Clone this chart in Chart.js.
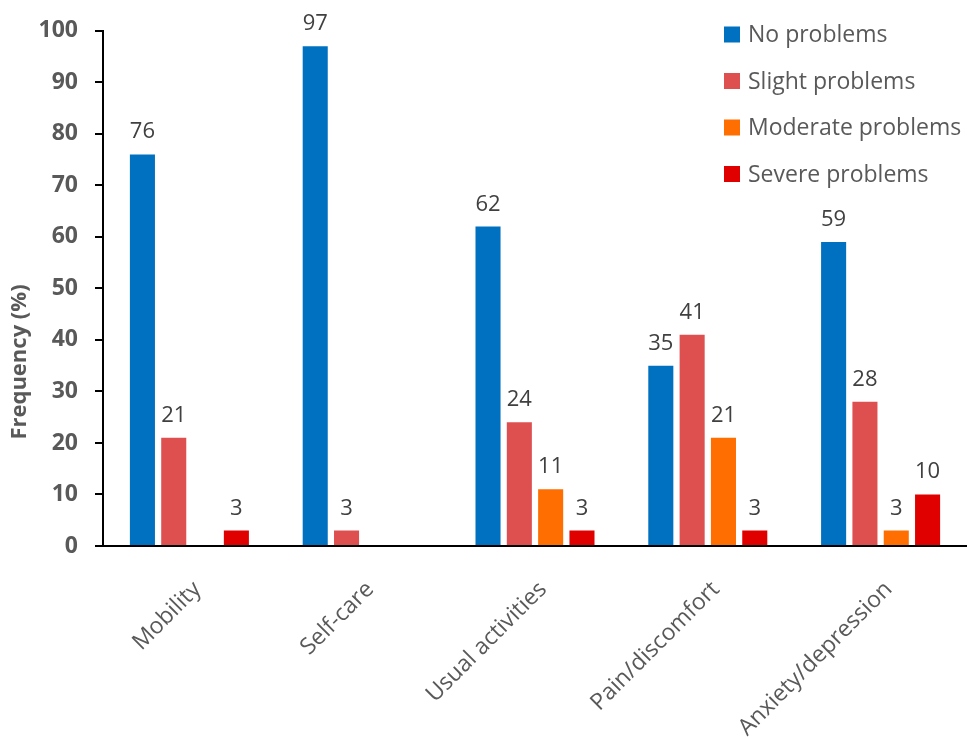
<!DOCTYPE html>
<html>
<head>
<meta charset="utf-8">
<script src="https://cdn.jsdelivr.net/npm/chart.js@4.4.0/dist/chart.umd.min.js"></script>
<style>
  html, body { margin: 0; padding: 0; background: #ffffff; }
  #wrap { width: 967px; height: 738px; position: relative; }
</style>
</head>
<body>
<div id="wrap"><canvas id="c"></canvas></div>
<script>
const categories = ['Mobility', 'Self-care', 'Usual activities', 'Pain/discomfort', 'Anxiety/depression'];
const seriesNames = ['No problems', 'Slight problems', 'Moderate problems', 'Severe problems'];
const noProblems = [76, 97, 62, 35, 59];
const slightProblems = [21, 3, 24, 41, 28];
const moderateProblems = [null, null, 11, 21, 3];
const severeProblems = [3, null, 3, 3, 10];
const seriesColors = ['#0070C0', '#DE5050', '#FF6E00', '#E00000'];
const yTicks = [0, 10, 20, 30, 40, 50, 60, 70, 80, 90, 100];
const yAxisTitle = 'Frequency (%)';

const seriesValues = [noProblems, slightProblems, moderateProblems, severeProblems];

const valueLabels = {
  id: 'valueLabels',
  afterDatasetsDraw(chart) {
    const ctx = chart.ctx;
    ctx.save();
    ctx.font = '22px "Open Sans"';
    ctx.fillStyle = '#404040';
    ctx.textAlign = 'center';
    ctx.textBaseline = 'alphabetic';
    chart.data.datasets.forEach((ds, i) => {
      const meta = chart.getDatasetMeta(i);
      meta.data.forEach((bar, j) => {
        const v = ds.data[j];
        if (v === null || v === undefined) return;
        ctx.fillText(String(v), bar.x, bar.y - 16);
      });
    });
    ctx.restore();
  }
};

const customLegend = {
  id: 'customLegend',
  afterDraw(chart) {
    const ctx = chart.ctx;
    ctx.save();
    ctx.font = '23px "Open Sans"';
    ctx.textAlign = 'left';
    ctx.textBaseline = 'middle';
    chart.data.datasets.forEach((ds, i) => {
      const cy = 34.5 + i * 46.5;
      ctx.fillStyle = ds.backgroundColor;
      ctx.fillRect(724, cy - 8, 16, 16);
      ctx.fillStyle = '#595959';
      ctx.fillText(ds.label, 748, cy + 1);
    });
    ctx.restore();
  }
};

const yTitle = {
  id: 'yTitle',
  afterDraw(chart) {
    const ctx = chart.ctx;
    ctx.save();
    ctx.translate(20, 362);
    ctx.rotate(-Math.PI / 2);
    ctx.font = 'bold 22px "Open Sans"';
    ctx.fillStyle = '#595959';
    ctx.textAlign = 'center';
    ctx.textBaseline = 'middle';
    ctx.fillText(yAxisTitle, 0, 0);
    ctx.restore();
  }
};

new Chart(document.getElementById('c'), {
  type: 'bar',
  data: {
    labels: categories,
    datasets: seriesNames.map((name, i) => ({
      label: name,
      data: seriesValues[i],
      backgroundColor: seriesColors[i],
      borderWidth: 0,
      categoryPercentage: 0.725,
      barPercentage: 0.8
    }))
  },
  options: {
    responsive: true,
    maintainAspectRatio: false,
    animation: false,
    layout: { padding: { top: 28, right: 0, left: 0, bottom: 0 } },
    plugins: {
      legend: { display: false },
      tooltip: { enabled: false }
    },
    scales: {
      x: {
        grid: { display: true, drawOnChartArea: false, drawTicks: false },
        border: { display: true, color: '#000000', width: 2 },
        ticks: {
          color: '#595959',
          font: { family: '"Open Sans"', size: 23 },
          minRotation: 45,
          maxRotation: 45,
          padding: 30,
          labelOffset: 8,
          autoSkip: false
        },
        afterFit(scale) { scale.height = 192; }
      },
      y: {
        min: 0,
        max: 100,
        afterBuildTicks(scale) { scale.ticks = yTicks.map(v => ({ value: v })); },
        grid: { display: true, drawOnChartArea: false, drawTicks: true, tickLength: 8, color: '#000000', lineWidth: 2 },
        border: { display: true, color: '#000000', width: 2 },
        ticks: {
          color: '#595959',
          font: { family: '"Open Sans"', size: 23, weight: 'bold' },
          padding: 17
        },
        afterFit(scale) { scale.width = 103; }
      }
    }
  },
  plugins: [valueLabels, customLegend, yTitle]
});
</script>
</body>
</html>
